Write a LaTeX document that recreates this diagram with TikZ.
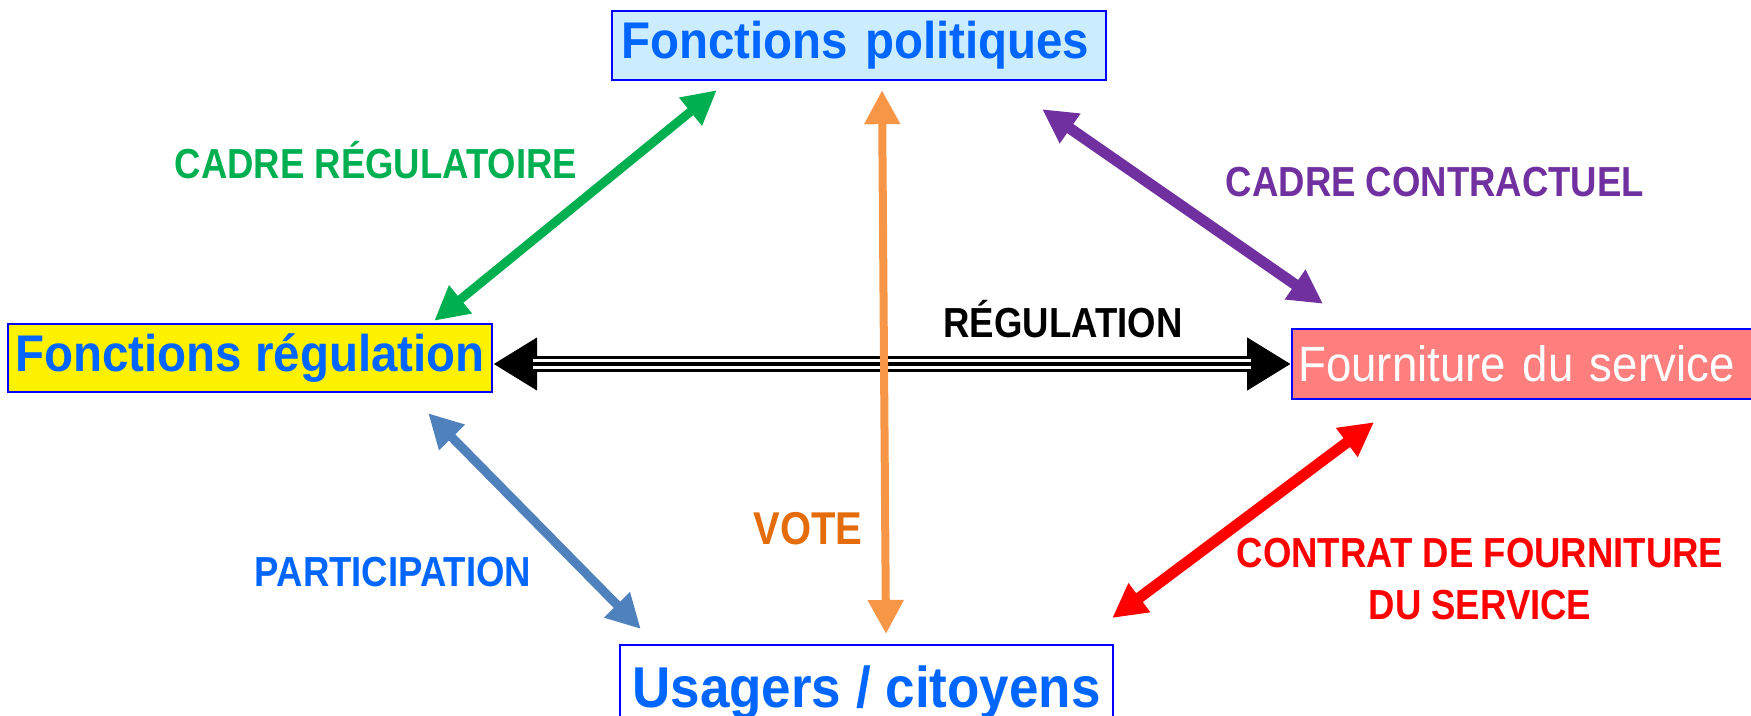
\documentclass[tikz,border=0pt]{standalone}
\usepackage{fontspec}
\setmainfont{Liberation Sans}
\newfontfamily\boxfont[FakeStretch=0.92]{Liberation Sans}
\newfontfamily\lblfont[FakeStretch=0.87]{Liberation Sans}
\usetikzlibrary{arrows.meta,calc,positioning}
\definecolor{boxblue}{HTML}{0000FF}
\definecolor{txtblue}{HTML}{0066FF}
\definecolor{polfill}{HTML}{CCECFF}
\definecolor{fsfill}{HTML}{FF7F7F}
\definecolor{cgreen}{HTML}{00B050}
\definecolor{cpurple}{HTML}{7030A0}
\definecolor{corange}{HTML}{F79646}
\definecolor{cvote}{HTML}{E46C0A}
\definecolor{cgrey}{HTML}{4F81BD}
\tikzset{
    fbox/.style =   {rectangle,
                    draw=boxblue,
                    line width=1.2pt,
                    inner ysep=0pt,
                    font=\boxfont\bfseries\fontsize{25.8}{30}\selectfont},
    lbl/.style =    {font=\lblfont\bfseries\fontsize{21}{26}\selectfont,
                    align=center},
    dbl/.style =    {<->,
                    >={Triangle[length=17pt,width=17pt]},
                    line width=4.5pt},
    -}

\begin{document}
\begin{tikzpicture}[x=0.5pt,y=-0.5pt]
    \useasboundingbox (0,0) rectangle (1751,716);
    % boxes
    \node[fbox, fill=polfill, text=txtblue, minimum height=34.5pt,
          text width=476*0.5pt, inner xsep=4.5pt, align=left]
          (pol) at (859,45.5) {Fonctions politiques};
    \node[fbox, fill=yellow, text=txtblue, minimum height=34pt,
          minimum width=242pt, inner xsep=2pt]
          (reg) at (250,358) {Fonctions régulation};
    \node[fbox, fill=fsfill, text=white, font=\boxfont\fontsize{24.8}{30}\selectfont,
          minimum height=35pt, text width=235pt, inner xsep=3pt, align=left,
          anchor=west]
          (fs) at (1291,364) {Fourniture du service};
    \node[fbox, fill=white, text=txtblue, font=\boxfont\bfseries\fontsize{28.8}{33}\selectfont,
          minimum height=48pt, minimum width=246.5pt, anchor=north]
          (us) at (866.5,644) {Usagers / citoyens};
    % regulation
    \draw[line width=8pt, {Triangle[length=22pt,width=25pt]}-{Triangle[length=22pt,width=25pt]}]
          (reg.east |- fs.west) -- (fs.west);
    \draw[white, line width=5pt, shorten <=20pt, shorten >=20pt]
          (reg.east |- fs.west) -- (fs.west);
    \draw[line width=1.8pt, shorten <=20pt, shorten >=20pt]
          (reg.east |- fs.west) -- (fs.west);
    % links
    \draw[dbl, cgreen]  ($(reg.north east)+(-59,-2)$) -- ($(pol.south west)+(106,9)$);
    \draw[dbl, cpurple, line width=5.5pt] ($(pol.south east)+(-65,28)$) -- ($(fs.north west)+(32,-24)$);
    \draw[dbl, corange, line width=4pt] ($(pol.south)+(23,9)$) -- ($(us.north)+(19.5,-10)$);
    \draw[dbl, cgrey]   ($(reg.south east)+(-65,20)$) -- ($(us.north west)+(22,-15)$);
    \draw[dbl, red, line width=5.5pt] ($(fs.south west)+(83,22)$) -- ($(us.north east)+(-2,-26)$);
    % labels
    \node[lbl, text=cgreen]  (lreg)  at (376,160)  {CADRE RÉGULATOIRE};
    \node[lbl, text=cpurple] (lcon)  at (1435,182) {CADRE CONTRACTUEL};
    \node[lbl, text=black]   (lrg)   at (1063,319) {RÉGULATION};
    \node[lbl, text=cvote, font=\lblfont\bfseries\fontsize{23}{26}\selectfont] (lvote) at (808,529) {VOTE};
    \node[lbl, text=txtblue] (lpart) at (393,572)  {PARTICIPATION};
    \node[lbl, text=red]     (lctr)  at (1480,579) {CONTRAT DE FOURNITURE\\DU SERVICE};
\end{tikzpicture}
\end{document}
